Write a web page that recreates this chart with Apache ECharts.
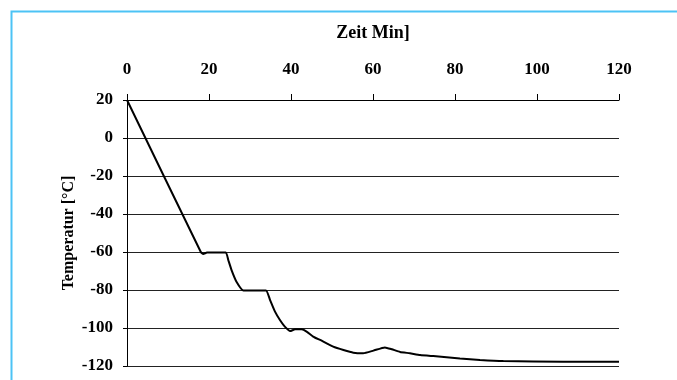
<!DOCTYPE html>
<html><head><meta charset="utf-8">
<script src="https://cdn.jsdelivr.net/npm/echarts@6/dist/echarts.min.js"></script>
<style>html,body{margin:0;padding:0;background:#fff}#c{width:677px;height:380px}</style>
</head><body><div id="c"></div>
<script>
const timeMin = [0, 18, 18.6, 19.5, 24.1, 24.7, 25.5, 26.7, 28.4, 33.9, 34.9, 36.1, 37.3, 38.5, 39.8, 41, 42.6, 43.8, 45.4, 47.1, 50.3, 52.8, 55.2, 57.6, 60.1, 62.9, 64.6, 66.6, 69, 71.5, 74.7, 81.2, 86.1, 91.8, 106.4, 120];
const tempC = [20, -60, -61, -60.3, -60.2, -64.2, -69.5, -75.6, -80.2, -80.2, -85.3, -91.4, -95.8, -99.3, -101.6, -100.7, -100.7, -101.9, -104.5, -106.3, -109.8, -111.6, -113, -113.3, -111.9, -110.2, -111.2, -112.6, -113.3, -114.2, -114.8, -116, -116.8, -117.4, -117.7, -117.7];
const xTitle = 'Zeit Min]';
const yTitle = 'Temperatur [°C]';
const font = '"Liberation Serif", "Times New Roman", serif';
const chart = echarts.init(document.getElementById('c'));
chart.setOption({
  animation: false,
  backgroundColor: '#fff',
  graphic: [{type: 'rect', left: 9, top: 9, shape: {width: 720, height: 420}, style: {fill: 'none', stroke: '#4cc3f5', lineWidth: 2}, silent: true}],
  grid: {left: 127, right: 58, top: 100, bottom: 14},
  xAxis: {
    type: 'value', position: 'top', min: 0, max: 120, interval: 20,
    name: xTitle, nameLocation: 'middle', nameGap: 58, nameMoveOverlap: false,
    nameTextStyle: {fontFamily: font, fontWeight: 'bold', fontSize: 18, color: '#000'},
    axisLine: {show: true, onZero: false, lineStyle: {color: '#000', width: 1}},
    axisTick: {show: true, length: 6, lineStyle: {color: '#000'}},
    axisLabel: {fontFamily: font, fontWeight: 'bold', fontSize: 17, color: '#000', margin: 22},
    splitLine: {show: false}
  },
  yAxis: {
    type: 'value', min: -120, max: 20, interval: 20,
    name: yTitle, nameLocation: 'middle', nameGap: 50, nameRotate: 90, nameMoveOverlap: false,
    nameTextStyle: {fontFamily: font, fontWeight: 'bold', fontSize: 16, color: '#000'},
    axisLine: {show: true, onZero: false, lineStyle: {color: '#000', width: 1}},
    axisTick: {show: true, length: 4, lineStyle: {color: '#000'}},
    axisLabel: {fontFamily: font, fontWeight: 'bold', fontSize: 17, color: '#000', margin: 14},
    splitLine: {show: true, lineStyle: {color: '#222', width: 1}}
  },
  series: [{
    type: 'line', data: timeMin.map((t, i) => [t, tempC[i]]),
    showSymbol: false, smooth: 0.15,
    lineStyle: {color: '#000', width: 2}
  }]
});
</script></body></html>
